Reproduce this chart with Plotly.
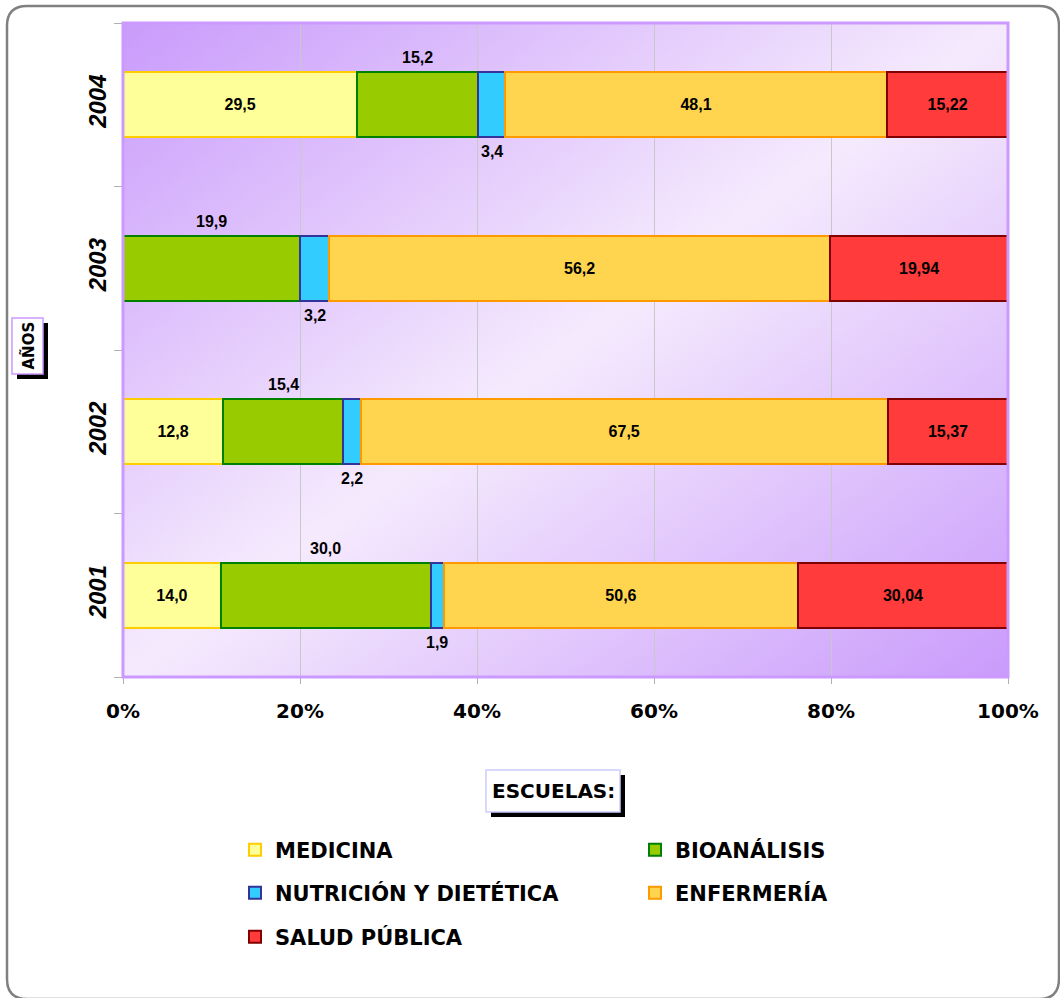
import plotly.graph_objects as go
import numpy as np

# ---------------- data ----------------
years = ['2001', '2002', '2003', '2004']
series_names = ['MEDICINA', 'BIOANÁLISIS', 'NUTRICIÓN Y DIETÉTICA', 'ENFERMERÍA', 'SALUD PÚBLICA']
medicina = [14.0, 12.8, None, 29.5]
bioanalisis = [30.0, 15.4, 19.9, 15.2]
nutricion = [1.9, 2.2, 3.2, 3.4]
enfermeria = [50.6, 67.5, 56.2, 48.1]
salud_publica = [30.04, 15.37, 19.94, 15.22]
decimals = [1, 1, 1, 1, 2]
x_ticks = [0, 20, 40, 60, 80, 100]
x_tick_labels = ['0%', '20%', '40%', '60%', '80%', '100%']

# ---------------- styles ----------------
fill_colors = ['#FFFF99', '#99CC00', '#33CCFF', '#FFD54F', '#FF3B3B']
line_colors = ['#FFCC00', '#008000', '#333399', '#FF9900', '#800000']
legend_ids = ['legend', 'legend', 'legend2', 'legend2', 'legend3']
inside_label = [True, False, False, True, True]

series = [medicina, bioanalisis, nutricion, enfermeria, salud_publica]
LABEL_FONT = dict(family='Liberation Sans, Arial, sans-serif', size=16, color='black', weight='bold')


def fmt(v, d):
    if v is None:
        return ''
    return f'{v:.{d}f}'.replace('.', ',')


fig = go.Figure()
for name, vals, d, fc, lc, lg, inside in zip(series_names, series, decimals, fill_colors,
                                             line_colors, legend_ids, inside_label):
    fig.add_trace(go.Bar(
        y=years, x=vals, name=name, orientation='h',
        marker=dict(color=fc, line=dict(color=lc, width=2)),
        text=[fmt(v, d) for v in vals],
        textposition='inside' if inside else 'none',
        insidetextanchor='middle', textangle=0,
        textfont=LABEL_FONT,
        legend=lg,
        hoverinfo='skip',
    ))

# outside labels for BIOANÁLISIS (above) and NUTRICIÓN (below), positioned from data
vals_arr = np.array([[0.0 if v is None else v for v in s] for s in series])
totals = vals_arr.sum(axis=0)
lefts = np.vstack([np.zeros(len(years)), np.cumsum(vals_arr, axis=0)[:-1]])
centers = (lefts + vals_arr / 2) / totals * 100

annotations = []
for i, yr in enumerate(years):
    # y given as the category index on the category axis
    annotations.append(dict(x=float(centers[1, i]), y=i, xref='x', yref='y',
                            text=fmt(bioanalisis[i], 1),
                            showarrow=False, yshift=47, yanchor='middle', font=LABEL_FONT))
    annotations.append(dict(x=float(centers[2, i]), y=i, xref='x', yref='y',
                            text=fmt(nutricion[i], 1),
                            showarrow=False, yshift=-47, yanchor='middle', font=LABEL_FONT))

# plot area geometry (pixels) for decorations outside the plot
L, R, T, B = 123, 1008, 23, 677
W, H = R - L, B - T


def px(x):
    return (x - L) / W


def py(y):
    return (B - y) / H


shapes = []


# boxed titles with drop shadows
def boxed(text, x0, y0, x1, y1, size, angle, border):
    shapes.append(dict(type='rect', xref='paper', yref='paper', x0=px(x0 + 5), x1=px(x1 + 5),
                       y0=py(y0 + 5), y1=py(y1 + 5), fillcolor='black', line=dict(width=0),
                       layer='above'))
    shapes.append(dict(type='rect', xref='paper', yref='paper', x0=px(x0), x1=px(x1),
                       y0=py(y0), y1=py(y1), fillcolor='white', line=dict(color=border, width=1.5),
                       layer='above'))
    annotations.append(dict(x=px((x0 + x1) / 2), y=py((y0 + y1) / 2), xref='paper', yref='paper',
                            text=text, showarrow=False, textangle=angle,
                            xanchor='center', yanchor='middle',
                            font=dict(family='DejaVu Sans', size=size, color='black',
                                      weight='bold')))


boxed('ESCUELAS:', 486, 770, 620, 812, 20, 0, '#CCCCFF')
boxed('AÑOS', 12, 318, 43, 374, 15, -90, '#CC99FF')

# outer rounded frame (extends past the right and bottom edges)
fl, ft, fr, fb, r = 7, 6, 1059, 999, 20
frame_path = (
    f'M {px(fl + r)},{py(ft)} L {px(fr - r)},{py(ft)} Q {px(fr)},{py(ft)} {px(fr)},{py(ft + r)} '
    f'L {px(fr)},{py(fb - r)} Q {px(fr)},{py(fb)} {px(fr - r)},{py(fb)} '
    f'L {px(fl + r)},{py(fb)} Q {px(fl)},{py(fb)} {px(fl)},{py(fb - r)} '
    f'L {px(fl)},{py(ft + r)} Q {px(fl)},{py(ft)} {px(fl + r)},{py(ft)} Z'
)

shapes = [
    dict(type='path', path=frame_path, xref='paper', yref='paper',
         line=dict(color='#808080', width=2.5), layer='below'),
    dict(type='rect', x0=0, x1=1, y0=0, y1=1, xref='paper', yref='paper',
         line=dict(color='#CC99FF', width=3), layer='above'),
] + shapes

gradient_svg = (
    "data:image/svg+xml;utf8,"
    "<svg xmlns='http://www.w3.org/2000/svg' width='100' height='100' preserveAspectRatio='none'>"
    "<defs><linearGradient id='g' x1='0' y1='0' x2='1' y2='1'>"
    "<stop offset='0' stop-color='%23C99BFB'/>"
    "<stop offset='0.5' stop-color='%23F5EAFD'/>"
    "<stop offset='1' stop-color='%23C99BFB'/>"
    "</linearGradient></defs>"
    "<rect width='100' height='100' fill='url(%23g)'/></svg>"
)

legend_common = dict(orientation='h', xref='container', yref='container', xanchor='left',
                     yanchor='middle', entrywidth=355, bgcolor='rgba(0,0,0,0)',
                     font=dict(family='DejaVu Sans', size=21, color='black', weight='bold'),
                     traceorder='normal', itemclick=False, itemdoubleclick=False)

fig.update_layout(
    width=1060, height=998,
    margin=dict(l=L, r=1060 - R, t=T, b=998 - B),
    barmode='stack', barnorm='percent', bargap=0.6,
    paper_bgcolor='white', plot_bgcolor='#EEDDFC',
    showlegend=True,
    legend=dict(legend_common, x=235 / 1060, y=1 - 850 / 998),
    legend2=dict(legend_common, x=235 / 1060, y=1 - 893 / 998),
    legend3=dict(legend_common, x=235 / 1060, y=1 - 937 / 998),
    annotations=annotations,
    shapes=shapes,
    images=[dict(source=gradient_svg, xref='paper', yref='paper', x=0, y=1, sizex=1, sizey=1,
                 sizing='stretch', layer='below', xanchor='left', yanchor='top')],
    xaxis=dict(range=[0, 100], autorange=False, tickvals=x_ticks, ticktext=x_tick_labels,
               showgrid=True, gridcolor='#C8C8C8', gridwidth=1, zeroline=False, showline=False,
               ticks='outside', ticklen=6, tickcolor='#B0B0B0', ticklabelstandoff=10,
               tickfont=dict(family='DejaVu Sans', size=20, color='black', weight='bold')),
    yaxis=dict(type='category', categoryorder='array', categoryarray=years,
               range=[-0.5, len(years) - 0.5], autorange=False, showgrid=False,
               zeroline=False, showline=False, ticks='outside', tickson='boundaries', ticklen=8,
               tickcolor='#B0B0B0', tickangle=-90, ticklabelstandoff=11,
               tickfont=dict(family='Liberation Sans, Arial, sans-serif', size=24,
                             color='black', weight='bold', style='italic')),
)

fig.write_html('out.html', post_script="document.body.style.margin='0';",
               config={'displayModeBar': False})
